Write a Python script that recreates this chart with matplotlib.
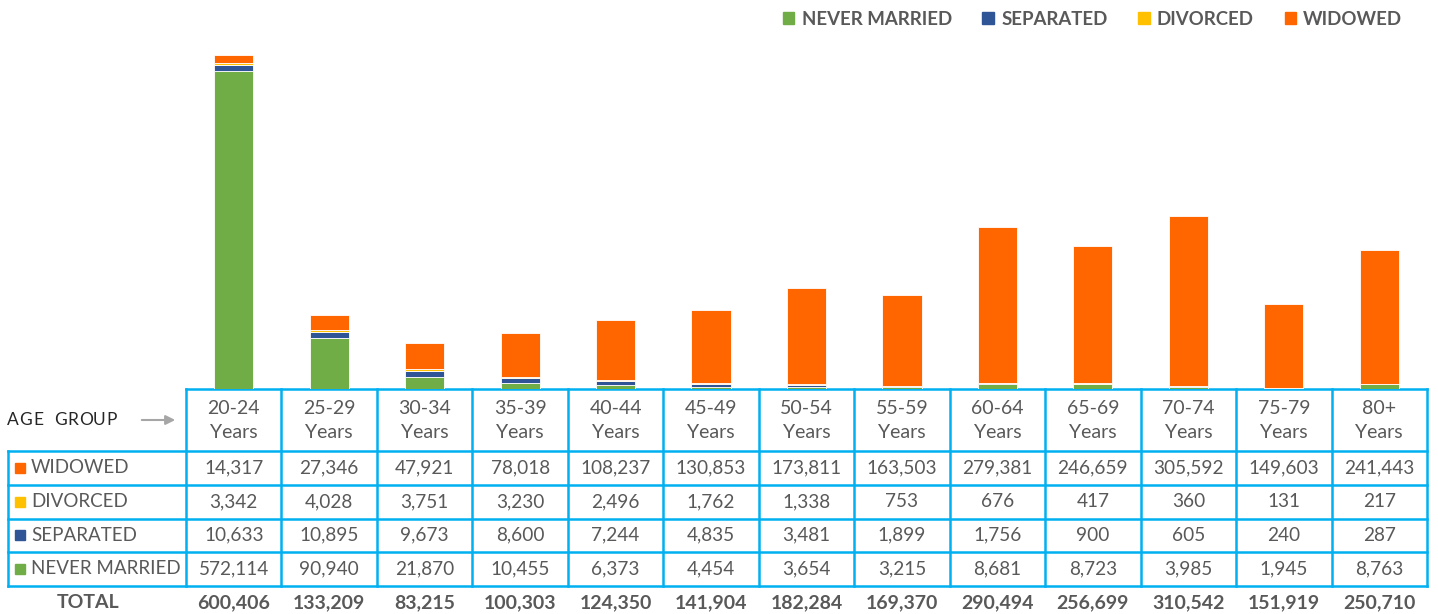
import matplotlib.pyplot as plt
import numpy as np

plt.rcParams['font.family'] = ['Lato', 'DejaVu Sans']

# data
age_groups = ['20-24\nYears', '25-29\nYears', '30-34\nYears', '35-39\nYears', '40-44\nYears',
              '45-49\nYears', '50-54\nYears', '55-59\nYears', '60-64\nYears', '65-69\nYears',
              '70-74\nYears', '75-79\nYears', '80+\nYears']
never_married = [572114, 90940, 21870, 10455, 6373, 4454, 3654, 3215, 8681, 8723, 3985, 1945, 8763]
separated = [10633, 10895, 9673, 8600, 7244, 4835, 3481, 1899, 1756, 900, 605, 240, 287]
divorced = [3342, 4028, 3751, 3230, 2496, 1762, 1338, 753, 676, 417, 360, 131, 217]
widowed = [14317, 27346, 47921, 78018, 108237, 130853, 173811, 163503, 279381, 246659, 305592, 149603, 241443]

series_names = ['NEVER MARRIED', 'SEPARATED', 'DIVORCED', 'WIDOWED']
series_vals = [never_married, separated, divorced, widowed]
colors = ['#70AD47', '#2F5597', '#FFC000', '#FF6600']

totals = np.sum(series_vals, axis=0)

W, H = 1438, 614
fig = plt.figure(figsize=(W / 100, H / 100), dpi=100)

# bar area (pixel layout)
x0, x1 = 186, 1427
base_y = 389
ax = fig.add_axes([x0 / W, (H - base_y) / H, (x1 - x0) / W, base_y / H])
x = np.arange(len(age_groups))
bottom = np.zeros(len(x))
handles = []
for name, vals, c in zip(series_names, series_vals, colors):
    b = ax.bar(x, vals, bottom=bottom, width=0.41, color=c, edgecolor='white', linewidth=0.6, label=name)
    handles.append(b)
    bottom += np.array(vals)
ax.set_xlim(-0.5, len(x) - 0.5)
ax.set_ylim(0, totals[0] * base_y / (base_y - 55))
ax.axis('off')

# legend (plain squares, no white edge)
leg_handles = [plt.Rectangle((0, 0), 1, 1, color=c) for c in colors]
leg = fig.legend(handles=leg_handles, labels=series_names, ncol=4, loc='upper right',
                 bbox_to_anchor=(1419 / W, 1 + 6 / H), frameon=False, handlelength=0.62,
                 handleheight=0.62, handletextpad=0.38, columnspacing=1.65,
                 prop={'weight': 'bold', 'size': 13.4})
for t in leg.get_texts():
    t.set_color('#595959')

# table drawn in pixel coordinates
tx = fig.add_axes([0, 0, 1, 1], zorder=-1)
tx.set_xlim(0, W)
tx.set_ylim(H, 0)
tx.axis('off')
line_c = '#00B0F0'
txt_c = '#595959'
lw = 1.8
col_w = (x1 - x0) / len(x)
rows_y = [451, 484.5, 518.5, 552, 586]
left = 8

tx.plot([x0, x1], [base_y, base_y], color=line_c, lw=lw)
for y in rows_y:
    tx.plot([left, x1], [y, y], color=line_c, lw=lw)
for i in range(len(x) + 1):
    cx = x0 + i * col_w
    tx.plot([cx, cx], [base_y, rows_y[-1]], color=line_c, lw=lw)
tx.plot([left, left], [rows_y[0], rows_y[-1]], color=line_c, lw=lw)

# header: spaced-out "AGE GROUP" label
cx_letter = 13
for ch in 'AGE GROUP':
    if ch == ' ':
        cx_letter += 8.5
        continue
    tx.text(cx_letter, 420, ch, color='#262626', fontsize=12.5, va='center', ha='center')
    cx_letter += 12.9
tx.annotate('', xy=(178, 420), xytext=(139, 420),
            arrowprops=dict(arrowstyle='-|>', color='#A6A6A6', lw=1.5, mutation_scale=14))
for i, lab in enumerate(age_groups):
    cx = x0 + (i + 0.5) * col_w
    tx.text(cx, 420, lab, ha='center', va='center', fontsize=14, color=txt_c, linespacing=1.5)

# data rows (top to bottom: widowed, divorced, separated, never married)
for r, k in enumerate([3, 2, 1, 0]):
    yc = (rows_y[r] + rows_y[r + 1]) / 2
    tx.add_patch(plt.Rectangle((15, yc - 5), 10, 10, color=colors[k]))
    tx.text(31, yc, series_names[k], va='center', ha='left', fontsize=13.5, color=txt_c)
    for i, v in enumerate(series_vals[k]):
        cx = x0 + (i + 0.5) * col_w
        tx.text(cx, yc, f'{v:,}', ha='center', va='center', fontsize=13.7, color=txt_c)

# total row
tx.text(88, 603, 'TOTAL', ha='center', va='center', fontsize=14, fontweight='bold', color=txt_c)
for i, v in enumerate(totals):
    cx = x0 + (i + 0.5) * col_w
    tx.text(cx, 603, f'{v:,}', ha='center', va='center', fontsize=14, fontweight='bold', color=txt_c)

plt.savefig('out.png', dpi=100)
